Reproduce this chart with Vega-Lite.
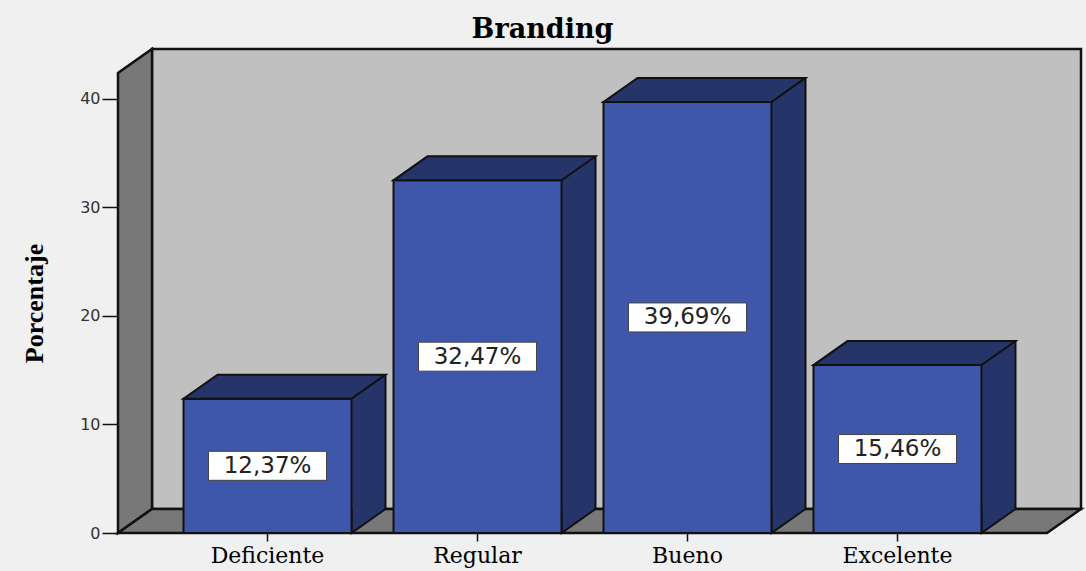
{
  "$schema": "https://vega.github.io/schema/vega-lite/v6.json",
  "width": 929,
  "height": 460,
  "autosize": {"type": "none"},
  "padding": {"left": 118, "top": 73, "right": 39, "bottom": 38},
  "background": "#F0F0F0",
  "config": {"view": {"stroke": null}},
  "title": {"text": "Branding", "font": "DejaVu Serif", "fontSize": 27, "fontWeight": "bold", "color": "#000000", "anchor": "middle", "frame": "group", "offset": 0, "dx": -40},
  "datasets": {
    "branding": [
      {"cat": "Deficiente", "pct": 12.37, "label": "12,37%"},
      {"cat": "Regular", "pct": 32.47, "label": "32,47%"},
      {"cat": "Bueno", "pct": 39.69, "label": "39,69%"},
      {"cat": "Excelente", "pct": 15.46, "label": "15,46%"}
    ],
    "frame": [{"part": "frame"}]
  },
  "layer": [
    {
      "data": {"name": "frame"},
      "encoding": {
        "x": {"datum": 0, "type": "quantitative", "scale": {"domain": [0, 1], "nice": false, "zero": false}, "axis": null},
        "y": {"datum": 0, "type": "quantitative", "scale": {"domain": [0, 42.35], "nice": false}, "axis": null}
      },
      "layer": [
        {
          "mark": {"type": "rect", "fill": "#C0C0C0", "stroke": "#111111", "strokeWidth": 2.5, "xOffset": 34, "x2Offset": 34, "yOffset": -24, "y2Offset": -24},
          "encoding": {"x2": {"datum": 1}, "y2": {"datum": 42.35}}
        },
        {
          "mark": {"type": "point", "shape": "M0,0V-460L34,-484V-24Z", "size": 4, "filled": true, "fill": "#787878", "stroke": "#111111", "strokeWidth": 2.5, "opacity": 1}
        },
        {
          "mark": {"type": "point", "shape": "M0,0L34,-24H963L929,0Z", "size": 4, "filled": true, "fill": "#787878", "stroke": "#111111", "strokeWidth": 2.5, "opacity": 1}
        }
      ]
    },
    {
      "data": {"name": "branding"},
      "encoding": {
        "x": {"field": "cat", "type": "nominal", "sort": null,
          "scale": {"type": "band", "paddingInner": 0.2, "paddingOuter": 0.312},
          "axis": {"title": null, "domain": false, "grid": false, "tickSize": 8, "tickColor": "#111111", "tickWidth": 1.5, "labelFont": "DejaVu Serif", "labelFontSize": 22, "labelColor": "#000000", "labelPadding": 4, "labelAngle": 0}},
        "y": {"field": "pct", "type": "quantitative",
          "scale": {"domain": [0, 42.35], "nice": false},
          "axis": {"values": [0, 10, 20, 30, 40], "domain": false, "grid": false, "tickSize": 16, "tickColor": "#111111", "tickWidth": 1.5, "labelFont": "DejaVu Sans", "labelFontSize": 16, "labelColor": "#333333", "labelPadding": 2, "title": "Porcentaje", "titleFont": "Liberation Serif", "titleFontSize": 26, "titleFontWeight": "bold", "titleColor": "#000000", "titlePadding": 32}}
      },
      "layer": [
        {
          "mark": {"type": "bar", "width": 34, "xOffset": 101, "yOffset": -24, "y2Offset": -24, "fill": "#263569"},
          "encoding": {"y2": {"datum": 0}}
        },
        {
          "mark": {"type": "rule", "xOffset": 118, "yOffset": -24, "y2Offset": -24, "stroke": "#111111", "strokeWidth": 2},
          "encoding": {"y2": {"datum": 0}}
        },
        {
          "mark": {"type": "point", "shape": "M84,-24L84,0L118,-24", "size": 4, "filled": true, "fill": "#263569", "stroke": "#111111", "strokeWidth": 2, "opacity": 1},
          "encoding": {"y": {"datum": 0, "type": "quantitative"}}
        },
        {
          "mark": {"type": "bar", "fill": "#3E57AA", "stroke": "#111111", "strokeWidth": 2},
          "encoding": {"y2": {"datum": 0}}
        },
        {
          "mark": {"type": "point", "shape": "M-84,0H84L118,-24H-50Z", "size": 4, "filled": true, "fill": "#263569", "stroke": "#111111", "strokeWidth": 2, "opacity": 1}
        }
      ]
    },
    {
      "data": {"name": "branding"},
      "encoding": {
        "x": {"field": "cat", "type": "nominal", "sort": null, "scale": {"type": "band", "paddingInner": 0.2, "paddingOuter": 0.312}, "axis": null},
        "y": {"field": "pct", "type": "quantitative", "scale": {"domain": [0, 84.7], "nice": false}, "axis": null}
      },
      "layer": [
        {
          "mark": {"type": "point", "shape": "M-59,-14.5H59V14.5H-59Z", "size": 4, "filled": true, "fill": "#FFFFFF", "stroke": "#444444", "strokeWidth": 1, "opacity": 1}
        },
        {
          "mark": {"type": "text", "font": "DejaVu Sans", "fontSize": 23, "fill": "#222222", "align": "center", "baseline": "middle"},
          "encoding": {"text": {"field": "label"}}
        }
      ]
    }
  ],
  "resolve": {"scale": {"x": "independent", "y": "independent"}, "axis": {"x": "independent", "y": "independent"}}
}
